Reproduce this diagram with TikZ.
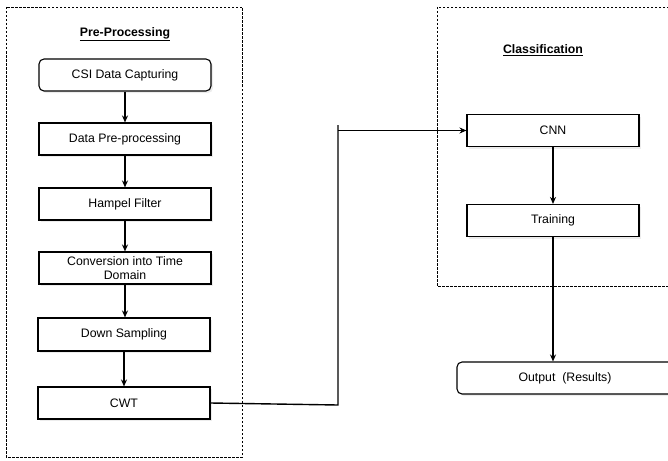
\documentclass[tikz,border=0pt]{standalone}
\usepackage{fontspec}
\setmainfont{Liberation Sans}
\usetikzlibrary{arrows.meta,shadows}
\begin{document}
\begin{tikzpicture}[x=1pt,y=-1pt,
  font=\fontsize{12.3}{14}\selectfont,
  blk/.style={draw,line width=1.1pt,fill=white,minimum width=172pt,minimum height=32pt,inner sep=0pt,align=center,
    drop shadow={fill=black!15,shadow xshift=2pt,shadow yshift=-2pt}},
  rblk/.style={blk,rounded corners=5pt},
  grp/.style={draw,line width=0.8pt,dash pattern=on 2.5pt off 1.5pt},
  ttl/.style={font=\fontsize{12.3}{14}\selectfont\bfseries},
  arr/.style={line width=1.4pt,-{Stealth[length=7pt,width=6pt]}},
  ln/.style={line width=1.4pt}]
\useasboundingbox (0,0) rectangle (668,460);
\draw[grp] (6,7) rectangle (242,457);
\draw[grp] (437,7) rectangle (680,286);
\node[ttl] (pptitle) at (125,34) {\underline{Pre-Processing}};
\node[ttl] (cltitle) at (543,50) {\underline{Classification}};
\node[rblk] (csi) at (125,75) {CSI Data Capturing};
\node[blk] (prep) at (125,139) {Data Pre-processing};
\node[blk] (hampel) at (125,204) {Hampel Filter};
\node[blk] (conv) at (125,268) {Conversion into Time\\Domain};
\node[blk,minimum height=33pt] (down) at (124,334.5) {Down Sampling};
\node[blk] (cwt) at (124,403) {CWT};
\node[blk] (cnn) at (553,130.5) {CNN};
\node[blk] (train) at (553,220.5) {Training};
\node[rblk,minimum width=216pt] (out) at (565,378) {Output\ \ (Results)};
\coordinate (bend) at (338,405);
\coordinate (up) at (338,125);
\draw[arr] (csi) -- (prep);
\draw[arr] (prep) -- (hampel);
\draw[arr] (hampel) -- (conv);
\draw[arr] (conv.south) -- (conv.south |- down.north);
\draw[arr] (down) -- (cwt);
\draw[ln] (cwt.east) -- (bend) -- (up);
\draw[arr] (up |- cnn.west) -- (cnn.west);
\draw[arr] (cnn) -- (train);
\draw[arr] (train.south) -- (train.south |- out.north);
\end{tikzpicture}
\end{document}
